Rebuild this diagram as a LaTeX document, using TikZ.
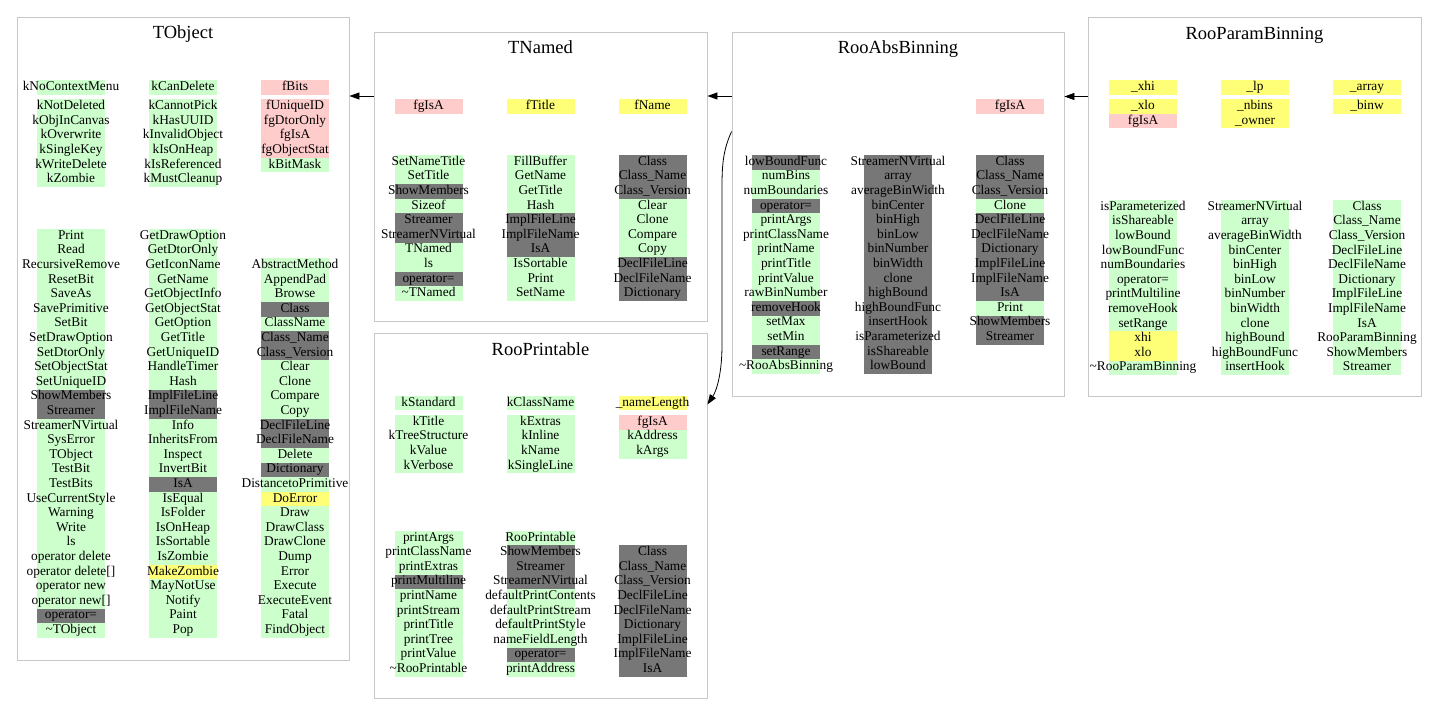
\documentclass[tikz,border=0pt]{standalone}
\usepackage{fontspec}
\setmainfont{Liberation Serif}
\usetikzlibrary{arrows.meta}
\definecolor{G}{HTML}{CCFFCC}
\definecolor{D}{HTML}{777777}
\definecolor{P}{HTML}{FFCCCC}
\definecolor{Y}{HTML}{FFFF77}
\definecolor{boxgray}{HTML}{C8C8C8}
\newcommand\rpitch{14.6}
% #1 name prefix, #2 x centre, #3 top y, #4 list colour/text
\newcommand\mcol[4]{%
  \foreach \cl/\txt [count=\ii] in {#4} {
    \pgfmathsetmacro\yt{#3+(\ii-1)*\rpitch}
    \fill[fill=\cl] (#2-34,\yt) rectangle (#2+34,\yt+\rpitch);
    \node[item] (#1-\ii) at (#2,\yt+10.3) {\txt};
  }%
}
\tikzset{
  item/.style={font=\fontsize{13.35bp}{15bp}\selectfont, inner sep=0pt, anchor=base},
  ttl/.style={font=\fontsize{18.5bp}{21bp}\selectfont, inner sep=0pt, anchor=base},
  cls/.style={draw=boxgray, line width=0.8bp, inner sep=0pt},
  arr/.style={draw=black, line width=0.8bp, -{Triangle[length=10bp,width=7bp]}}
}
\begin{document}
\begin{tikzpicture}[x=1bp,y=-1bp]
\useasboundingbox (0,0) rectangle (1437,724);
\fill[white] (0,0) rectangle (1437,724);

% ---------- boxes ----------
\node[cls, minimum width=332bp, minimum height=643bp] (tobject) at (183,338.5) {};
\node[cls, minimum width=333bp, minimum height=289bp] (tnamed) at (540.5,176.5) {};
\node[cls, minimum width=333bp, minimum height=365bp] (rooprint) at (540.5,515.5) {};
\node[cls, minimum width=332bp, minimum height=364bp] (rooabs) at (898,214) {};
\node[cls, minimum width=333bp, minimum height=379bp] (rooparam) at (1254.5,206.5) {};

% ---------- titles ----------
\node[ttl] (t-tobject) at (183,39) {TObject};
\node[ttl] (t-tnamed) at (540.5,54) {TNamed};
\node[ttl] (t-rooprint) at (540.5,355.5) {RooPrintable};
\node[ttl] (t-rooabs) at (898,54) {RooAbsBinning};
\node[ttl] (t-rooparam) at (1254.5,39.5) {RooParamBinning};

% ---------- TObject ----------
\mcol{ob-d1a}{71}{80}{G/kNoContextMenu}
\mcol{ob-d1b}{71}{99.3}{G/kNotDeleted,G/kObjInCanvas,G/kOverwrite,G/kSingleKey,G/kWriteDelete,G/kZombie}
\mcol{ob-d2a}{183}{80}{G/kCanDelete}
\mcol{ob-d2b}{183}{99.3}{G/kCannotPick,G/kHasUUID,G/kInvalidObject,G/kIsOnHeap,G/kIsReferenced,G/kMustCleanup}
\mcol{ob-d3a}{295}{80}{P/fBits}
\mcol{ob-d3b}{295}{99.3}{P/fUniqueID,P/fgDtorOnly,P/fgIsA,P/fgObjectStat,G/kBitMask}
\mcol{ob-m1}{71}{229}{G/Print,G/Read,G/RecursiveRemove,G/ResetBit,G/SaveAs,G/SavePrimitive,G/SetBit,G/SetDrawOption,G/SetDtorOnly,G/SetObjectStat,G/SetUniqueID,D/ShowMembers,D/Streamer,G/StreamerNVirtual,G/SysError,G/TObject,G/TestBit,G/TestBits,G/UseCurrentStyle,G/Warning,G/Write,G/ls,G/operator delete,G/operator delete[],G/operator new,G/operator new[],D/operator=,G/\textasciitilde TObject}
\mcol{ob-m2}{183}{229}{G/GetDrawOption,G/GetDtorOnly,G/GetIconName,G/GetName,G/GetObjectInfo,G/GetObjectStat,G/GetOption,G/GetTitle,G/GetUniqueID,G/HandleTimer,G/Hash,D/ImplFileLine,D/ImplFileName,G/Info,G/InheritsFrom,G/Inspect,G/InvertBit,D/IsA,G/IsEqual,G/IsFolder,G/IsOnHeap,G/IsSortable,G/IsZombie,Y/MakeZombie,G/MayNotUse,G/Notify,G/Paint,G/Pop}
\mcol{ob-m3}{295}{258.2}{G/AbstractMethod,G/AppendPad,G/Browse,D/Class,G/ClassName,D/Class\_Name,D/Class\_Version,G/Clear,G/Clone,G/Compare,G/Copy,D/DeclFileLine,D/DeclFileName,G/Delete,D/Dictionary,G/DistancetoPrimitive,Y/DoError,G/Draw,G/DrawClass,G/DrawClone,G/Dump,G/Error,G/Execute,G/ExecuteEvent,G/Fatal,G/FindObject}

% ---------- TNamed ----------
\mcol{tn-d1}{428.5}{99}{P/fgIsA}
\mcol{tn-d2}{540.5}{99}{Y/fTitle}
\mcol{tn-d3}{652.5}{99}{Y/fName}
\mcol{tn-m1}{428.5}{155}{G/SetNameTitle,G/SetTitle,D/ShowMembers,G/Sizeof,D/Streamer,D/StreamerNVirtual,G/TNamed,G/ls,D/operator=,G/\textasciitilde TNamed}
\mcol{tn-m2}{540.5}{155}{G/FillBuffer,G/GetName,G/GetTitle,G/Hash,D/ImplFileLine,D/ImplFileName,D/IsA,G/IsSortable,G/Print,G/SetName}
\mcol{tn-m3}{652.5}{155}{D/Class,D/Class\_Name,D/Class\_Version,G/Clear,G/Clone,G/Compare,G/Copy,D/DeclFileLine,D/DeclFileName,D/Dictionary}

% ---------- RooPrintable ----------
\mcol{rp-d1a}{428.5}{395.7}{G/kStandard}
\mcol{rp-d1b}{428.5}{415}{G/kTitle,G/kTreeStructure,G/kValue,G/kVerbose}
\mcol{rp-d2a}{540.5}{395.7}{G/kClassName}
\mcol{rp-d2b}{540.5}{415}{G/kExtras,G/kInline,G/kName,G/kSingleLine}
\mcol{rp-d3a}{652.5}{395.7}{Y/\_nameLength}
\mcol{rp-d3b}{652.5}{415}{P/fgIsA,G/kAddress,G/kArgs}
\mcol{rp-m1}{428.5}{530.7}{G/printArgs,G/printClassName,G/printExtras,D/printMultiline,G/printName,G/printStream,G/printTitle,G/printTree,G/printValue,G/\textasciitilde RooPrintable}
\mcol{rp-m2}{540.5}{530.7}{G/RooPrintable,D/ShowMembers,D/Streamer,D/StreamerNVirtual,G/defaultPrintContents,G/defaultPrintStream,G/defaultPrintStyle,G/nameFieldLength,D/operator=,G/printAddress}
\mcol{rp-m3}{652.5}{545.3}{D/Class,D/Class\_Name,D/Class\_Version,D/DeclFileLine,D/DeclFileName,D/Dictionary,D/ImplFileLine,D/ImplFileName,D/IsA}

% ---------- RooAbsBinning ----------
\mcol{ra-d3}{1010}{99}{P/fgIsA}
\mcol{ra-m1}{786}{155}{D/lowBoundFunc,G/numBins,G/numBoundaries,D/operator=,G/printArgs,G/printClassName,G/printName,G/printTitle,G/printValue,G/rawBinNumber,D/removeHook,G/setMax,G/setMin,D/setRange,G/\textasciitilde RooAbsBinning}
\mcol{ra-m2}{898}{155}{D/StreamerNVirtual,D/array,D/averageBinWidth,D/binCenter,D/binHigh,D/binLow,D/binNumber,D/binWidth,D/clone,D/highBound,D/highBoundFunc,D/insertHook,D/isParameterized,D/isShareable,D/lowBound}
\mcol{ra-m3}{1010}{155}{D/Class,D/Class\_Name,D/Class\_Version,G/Clone,D/DeclFileLine,D/DeclFileName,D/Dictionary,D/ImplFileLine,D/ImplFileName,D/IsA,G/Print,D/ShowMembers,D/Streamer}

% ---------- RooParamBinning ----------
\mcol{pb-d1a}{1143}{80}{Y/\_xhi}
\mcol{pb-d1b}{1143}{99.3}{Y/\_xlo,P/fgIsA}
\mcol{pb-d2a}{1255}{80}{Y/\_lp}
\mcol{pb-d2b}{1255}{99.3}{Y/\_nbins,Y/\_owner}
\mcol{pb-d3a}{1367}{80}{Y/\_array}
\mcol{pb-d3b}{1367}{99.3}{Y/\_binw}
\mcol{pb-m1}{1143}{200}{G/isParameterized,G/isShareable,G/lowBound,G/lowBoundFunc,G/numBoundaries,G/operator=,G/printMultiline,G/removeHook,G/setRange,Y/xhi,Y/xlo,G/\textasciitilde RooParamBinning}
\mcol{pb-m2}{1255}{200}{G/StreamerNVirtual,G/array,G/averageBinWidth,G/binCenter,G/binHigh,G/binLow,G/binNumber,G/binWidth,G/clone,G/highBound,G/highBoundFunc,G/insertHook}
\mcol{pb-m3}{1367}{200}{G/Class,G/Class\_Name,G/Class\_Version,G/DeclFileLine,G/DeclFileName,G/Dictionary,G/ImplFileLine,G/ImplFileName,G/IsA,G/RooParamBinning,G/ShowMembers,G/Streamer}

% ---------- connectors ----------
\coordinate (ya) at (0,96);
\coordinate (yb) at (0,96.5);
\coordinate (yc) at (0,131.5);
\coordinate (yd) at (0,404.5);
\draw[arr] (tnamed.west |- ya) -- (tobject.east |- ya);
\draw[arr] (rooabs.west |- ya) -- (tnamed.east |- ya);
\draw[arr] (rooparam.west |- yb) -- (rooabs.east |- yb);
\draw[arr] (rooabs.west |- yc) .. controls (724,148) and (722,162) .. (722,185) -- (722,345) .. controls (722,372) and (717,390) .. (rooprint.east |- yd);
\end{tikzpicture}
\end{document}
